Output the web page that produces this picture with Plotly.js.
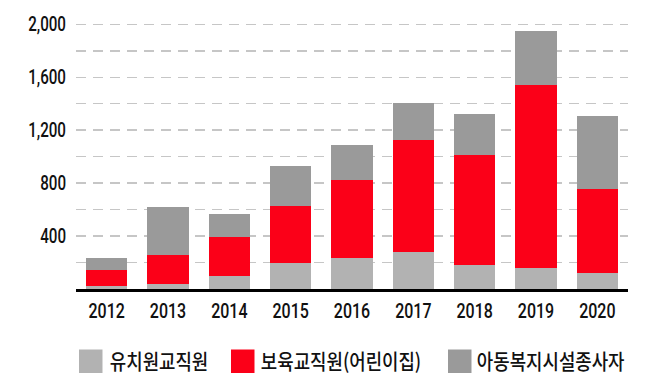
<!DOCTYPE html>
<html>
<head>
<meta charset="utf-8">
<script src="https://cdn.plot.ly/plotly-3.0.1.min.js"></script>
<style>
  html, body { margin: 0; padding: 0; background: #ffffff; }
  #chart { width: 658px; height: 388px; }
</style>
</head>
<body>
<div id="chart"></div>
<script>
// ---- data ----
const years = ['2012', '2013', '2014', '2015', '2016', '2017', '2018', '2019', '2020'];
const seriesNames = ['유치원교직원', '보육교직원(어린이집)', '아동복지시설종사자'];
const kindergartenStaff = [25, 40, 100, 200, 235, 280, 185, 155, 120];
const daycareStaff = [120, 218, 291, 430, 591, 848, 827, 1385, 636];
const welfareStaff = [92, 359, 176, 299, 259, 276, 309, 412, 555];
const yTickVals = [400, 800, 1200, 1600, 2000];
const yTickText = ['400', '800', '1,200', '1,600', '2,000'];

// ---- style ----
const colors = ['#b2b2b2', '#fb0018', '#9a9a9a'];
const numFont = "Roboto, 'DejaVu Sans', sans-serif";
const krFont = "'Noto Sans CJK KR', 'Noto Sans', sans-serif";
const gridColor = '#c6c6c6';

const W = 658, H = 388;
const M = { l: 76, r: 30, t: 23, b: 99 };
const pw = W - M.l - M.r, ph = H - M.t - M.b;
const px2x = p => (p - M.l) / pw;
const px2y = p => (H - M.b - p) / ph;

const values = [kindergartenStaff, daycareStaff, welfareStaff];
const traces = values.map((v, i) => ({
  type: 'bar',
  x: years,
  y: v,
  name: seriesNames[i],
  marker: { color: colors[i], line: { width: 0 } },
  hoverinfo: 'x+y+name'
}));

// custom legend (large square swatches + text)
const legendSwatchX = [79, 231, 448];
const legendTextX = [108, 259, 475];
const swTop = 349.5, swSize = 23.5;
const shapes = legendSwatchX.map((x0, i) => ({
  type: 'rect', xref: 'paper', yref: 'paper',
  x0: px2x(x0), x1: px2x(x0 + swSize),
  y0: px2y(swTop + swSize), y1: px2y(swTop),
  fillcolor: colors[i], line: { width: 0 }, layer: 'above'
}));
const annotations = seriesNames.map((name, i) => ({
  xref: 'paper', yref: 'paper',
  x: px2x(legendTextX[i]), y: px2y(swTop + swSize / 2 - 1.5),
  xanchor: 'left', yanchor: 'middle',
  text: name, showarrow: false,
  font: { family: krFont, size: 21, weight: 500, color: '#111111' }
}));

const layout = {
  width: W, height: H,
  margin: M,
  paper_bgcolor: '#ffffff',
  plot_bgcolor: '#ffffff',
  barmode: 'stack',
  bargap: 0.33,
  showlegend: false,
  xaxis: {
    type: 'category',
    showline: true, linecolor: '#000000', linewidth: 3,
    ticks: '', showgrid: false, zeroline: false,
    tickfont: { family: numFont, size: 20.5, weight: 500, color: '#111111' },
    ticklabelstandoff: 1,
    fixedrange: true
  },
  yaxis: {
    range: [0, 2010],
    tickmode: 'array', tickvals: yTickVals, ticktext: yTickText,
    showgrid: true, gridcolor: gridColor, gridwidth: 1.5, griddash: '10px,7px',
    minor: { tickmode: 'linear', tick0: 0, dtick: 200, showgrid: true, gridcolor: gridColor, gridwidth: 1.5, griddash: '10px,7px', ticks: '' },
    zeroline: false, showline: false, ticks: '',
    tickfont: { family: numFont, size: 20.5, weight: 500, color: '#111111' },
    ticklabelstandoff: 9,
    fixedrange: true
  },
  shapes: shapes,
  annotations: annotations
};

// horizontally condense text (the reference uses a condensed typeface)
function condense(g, sx, mode) {
  const bb = g.getBBox();
  const ax = mode === 'end' ? bb.x + bb.width : (mode === 'start' ? bb.x : bb.x + bb.width / 2);
  const prev = g.getAttribute('transform') || '';
  g.setAttribute('transform', prev + ' translate(' + ax + ',0) scale(' + sx + ',1) translate(' + (-ax) + ',0)');
}

Plotly.newPlot('chart', traces, layout, { displayModeBar: false, staticPlot: true }).then(gd => {
  gd.querySelectorAll('g.xtick').forEach(g => condense(g, 0.78, 'middle'));
  gd.querySelectorAll('g.ytick').forEach(g => condense(g, 0.74, 'end'));
  gd.querySelectorAll('text.annotation-text').forEach(t => condense(t.parentNode, 0.85, 'start'));
});
</script>
</body>
</html>
